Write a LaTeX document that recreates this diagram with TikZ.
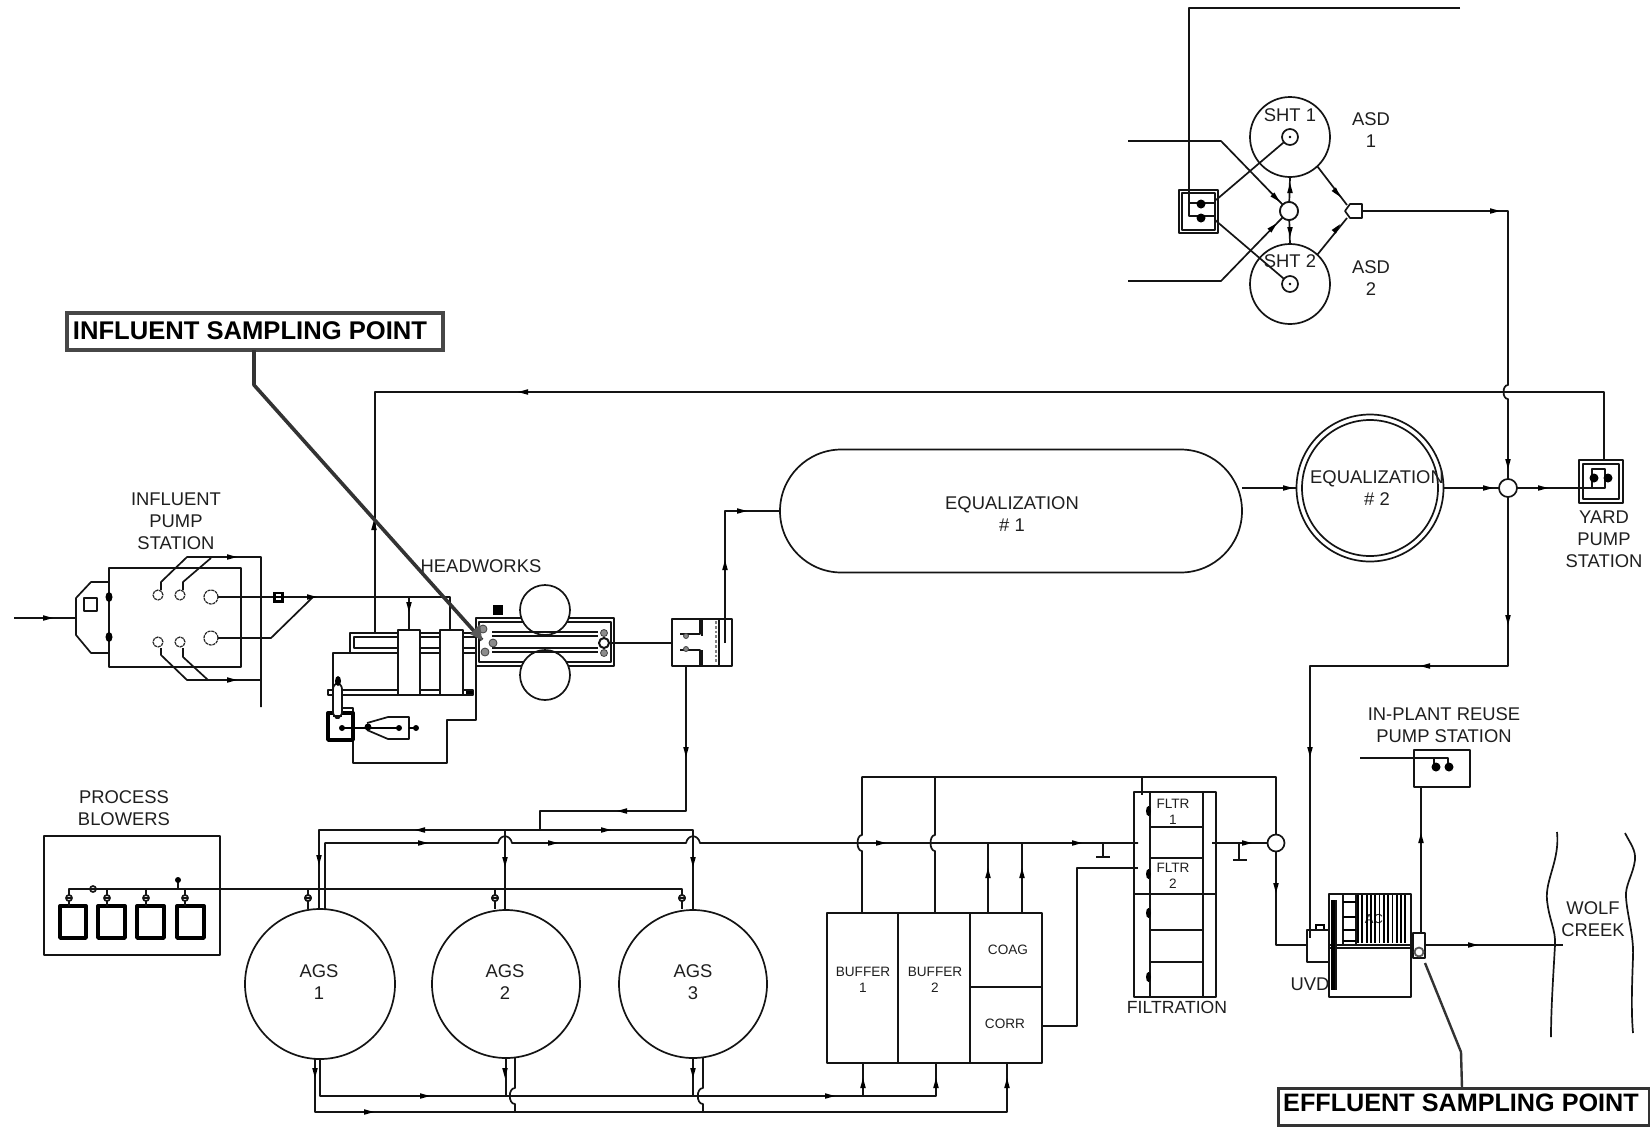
\documentclass[tikz,border=0pt]{standalone}
\usepackage{fontspec}
\setmainfont{Liberation Sans}
\usetikzlibrary{fit,shapes.geometric}
\tikzset{
  ln/.style={line width=.85pt,line join=round,black!92},
  hv/.style={line width=1.7pt,line join=round,black},
  t/.style={inner sep=0,align=center,font=\fontsize{9.2}{10.9}\selectfont,text=black!88},
  ts/.style={inner sep=0,align=center,font=\fontsize{6.8}{8}\selectfont,text=black!88},
  tb/.style={inner sep=0,align=center,font=\bfseries\fontsize{12.8}{13}\selectfont,text=black},
  tank/.style={circle,draw,ln,fill=white,inner sep=0,outer sep=0},
  callout/.style={line width=2.2pt,draw=black!72},
  leader/.style={line width=1.8pt,black!80,line join=round},
}
\newcommand\bx[6][]{\node[draw,ln,inner sep=0,outer sep=0,fit={(#3,#4) (#5,#6)},#1] (#2) {};}
\newcommand\tip[3]{\fill[black,shift={(#1,#2)},rotate=#3] (5,0) -- (-5,2.8) -- (-5,-2.8) -- cycle;}
\newcommand\vlv[2]{\draw[ln,fill=white] (#1,#2) circle[radius=3]; \draw[ln] (#1-3,#2) -- (#1+3,#2);}
\newcommand\dotb[3]{\fill[black] (#1,#2) circle[radius=#3];}
\newcommand\graydot[3]{\fill[black!45] (#1,#2) circle[radius=#3]; \draw[line width=.4pt,black!75] (#1,#2) circle[radius=#3];}
\begin{document}
\begin{tikzpicture}[x=.5pt,y=-.5pt]
\useasboundingbox[fill=white] (0,0) rectangle (1650,1126);

% ---------- ASD / sludge holding
\node[tank,minimum size=40pt] (sht1) at (1290,137) {};
\node[tank,minimum size=40pt] (sht2) at (1290,284) {};
\node[tank,minimum size=8pt] (sc1) at (1290,137) {};
\node[tank,minimum size=8pt] (sc2) at (1290,284) {};
\fill (1290,137) circle[radius=1.3]; \fill (1290,284) circle[radius=1.3];
\node[tank,minimum size=9pt] (mid) at (1289,211) {};
\bx{spo}{1179}{190}{1218}{233}
\bx{spi}{1182}{193}{1215}{230}
\coordinate (topend) at (1460,8);
\coordinate (inA) at (1128,141);
\coordinate (inB) at (1128,281);
\draw[ln] (topend) -- (1189,8) -- (1189,216) -- (1214,216);
\draw[ln] (1189,203) -- (1214,203);
\dotb{1201}{204}{4.5} \dotb{1201}{218}{4.5}
\draw[ln] (1216,200) -- (sc1);
\draw[ln] (1215,220) -- (sc2);
\draw[ln] (inA) -- (1221,141) -- (mid.north west);
\draw[ln] (inB) -- (1221,281) -- (mid.south west);
\draw[ln] (mid) -- (sht1.south);
\draw[ln] (mid) -- (sht2.north);
\node[tank,minimum size=9pt] at (1289,211) {};
\tip{1276}{198}{-45} \tip{1273}{227}{45}
\tip{1290}{188}{90} \tip{1290}{232}{-90}
\draw[ln,fill=white] (1345,211) -- (1350,204) -- (1362,204) -- (1362,218) -- (1350,218) -- cycle;
\coordinate (pent) at (1362,211);
\draw[ln] (sht1.-47) -- (1347,205);
\draw[ln] (sht2.47) -- (1347,218);
\tip{1337}{193}{-50} \tip{1337}{228}{50}
\node[t] (lsht1) at (1290,115) {SHT 1};
\node[t] (lsht2) at (1290,261) {SHT 2};
\node[t] (lasd1) at (1371,130) {ASD\\1};
\node[t] (lasd2) at (1371,278) {ASD\\2};

% ---------- equalization and yard pump
\node[draw,ln,fill=white,rounded corners=30.7pt,minimum width=231pt,minimum height=61.5pt,inner sep=0,outer sep=0] (eq1) at (1011,511) {};
\node[tank,minimum size=73.5pt] (eq2) at (1370,488) {};
\node[tank,minimum size=68pt] (eq2i) at (1370,488) {};
\node[t] (leq1) at (1012,514) {EQUALIZATION\\\# 1};
\node[t] (leq2) at (1377,488) {EQUALIZATION\\\# 2};
\node[tank,minimum size=9pt] (jct) at (1508,488) {};
\draw[ln] (eq1.east |- eq2.west) -- (eq2.west);
\tip{1288}{488}{0}
\draw[ln] (eq2.east) -- (jct.west);
\tip{1488}{488}{0}
\draw[ln] (pent) -- (1508,211) -- (1508,385) .. controls (1502,385) and (1502,399) .. (1508,399) -- (jct.north);
\tip{1495}{211}{0} \tip{1508}{464}{-90}
\bx{ypo}{1579}{460}{1623}{503}
\bx{ypi}{1583}{464}{1619}{499}
\draw[ln] (jct.east) -- (1605,488) -- (1605,469) -- (1592,469) -- (1592,487);
\tip{1543}{488}{0}
\dotb{1594}{478}{4.5} \dotb{1608}{478}{4.5}
\draw[ln] (ypo.north -| 1604,0) -- (1604,392) -- (375,392) -- (375,633);
\tip{523}{392}{180} \tip{374}{525}{90}
\node[t] (lyard) at (1604,539) {YARD\\PUMP\\STATION};
\draw[ln] (jct.south) -- (1508,666) -- (1310,666) -- (1310,938);
\tip{1508}{620}{-90} \tip{1425}{666}{180} \tip{1310}{752}{-90}
\draw[ln] (eq1.west |- 0,511) -- (725,511) -- (725,643);
\tip{742}{511}{0} \tip{725}{565}{90}

% ---------- influent pump station
\coordinate (infl) at (14,618);
\bx{ips}{109}{568}{241}{667}
\draw[ln] (109,582) -- (91,582) -- (76,598) -- (76,635) -- (91,653) -- (109,653);
\bx{ipsq}{84}{598}{97}{611}
\draw[ln] (infl) -- (76,618);
\tip{48}{618}{0}
\fill (109,597) ellipse[x radius=3.5,y radius=5];
\fill (109,637) ellipse[x radius=3.5,y radius=5];
\foreach \n/\x/\y/\r in {p1/158/595/5,p2/180/595/5,p3/211/597/7,p4/211/638/7,p5/158/642/5,p6/180/642/5}{
  \node[circle,draw,line width=.6pt,black!85,dash pattern=on 1.5pt off .4pt,inner sep=0,minimum size=\r pt,outer sep=0] (\n) at (\x,\y) {};
}
\draw[ln] (161,590) -- (161,582) -- (187,557) -- (261,557) -- (261,707);
\draw[ln] (183,590) -- (183,582) -- (211,558);
\draw[ln] (161,648) -- (161,655) -- (187,680) -- (261,680);
\draw[ln] (183,648) -- (183,657) -- (208,680);
\tip{232}{557}{0} \tip{232}{680}{0}
\draw[ln] (p3.east) -- (450,597) -- (450,633);
\draw[ln] (p4.east) -- (271,638) -- (313,597);
\tip{312}{597}{0}
\fill (273,591.5) rectangle (284,602.5);
\fill[white] (276,594) rectangle (281,596); \fill[white] (276,598) rectangle (281,600);
\node[t] (lips) at (176,521) {INFLUENT\\PUMP\\STATION};

% ---------- headworks basins
\draw[ln] (350,653) -- (350,633) -- (477,633);
\draw[ln] (477,637) -- (354,637) -- (354,648) -- (477,648);
\draw[ln] (333,690) -- (333,653) -- (476,653) -- (476,720) -- (447,720) -- (447,763) -- (353,763) -- (353,708) -- (337,708);
\bx{lowbar}{328}{690}{473}{695}
\draw[line width=1.6pt] (466,692.5) -- (473,692.5);
\draw[ln] (409,597) -- (409,631);
\tip{409}{607}{-90}
\bx[fill=white]{col1}{398}{630}{420}{695}
\bx[fill=white]{col2}{440}{630}{463}{695}
% grit / sludge equipment
\bx[hv]{dw}{328}{713}{353}{740}
\draw[ln,fill=white,rounded corners=3pt] (333,718) -- (333,683) -- (342,683) -- (342,718) -- cycle;
\fill (338,681) ellipse[x radius=3,y radius=5];
\draw[ln] (333,716) -- (342,716);
\draw[ln] (367,723) -- (388,717) -- (409,717) -- (409,739) -- (388,739) -- (367,730);
\draw[line width=1pt] (342,728) -- (400,728);
\fill (342,728) circle[radius=3]; \dotb{368}{727}{3.5} \dotb{399}{728}{3}
\draw[line width=1.4pt] (409,728) -- (417,728); \dotb{416}{728}{3}
% headworks
\draw[ln] (476,618) rectangle (614,666);
\draw[ln] (479,622) rectangle (611,662);
\node[tank,minimum size=25pt] (hw1) at (545,610) {};
\node[tank,minimum size=25pt] (hw2) at (545,675) {};
\draw[ln] (492,632) -- (598,632); \draw[ln] (492,636) -- (598,636);
\draw[ln] (492,648) -- (598,648); \draw[ln] (492,652) -- (598,652);
\graydot{493}{643}{4} \graydot{485}{652}{4} \graydot{483}{629}{4}
\graydot{604}{633}{3.5} \graydot{604}{653}{3.5}
\node[tank,line width=1pt,minimum size=5pt] (hwout) at (604,643) {};
\fill (493,605) rectangle (503,615);
\node[t] (lhw) at (481,566) {HEADWORKS};

% ---------- flow splitter
\bx{spl}{672}{619}{732}{666}
\draw[ln] (hwout.east) -- (spl.west |- hwout.east);
\draw[ln] (719,619) -- (719,666);
\draw[ln] (725,643) -- (725,619);
\draw[ln] (700,619) -- (700,634) -- (680,634);
\draw[ln] (702,619) -- (702,636);
\draw[ln] (700,666) -- (700,650) -- (680,650);
\draw[ln] (702,666) -- (702,650);
\draw[black!50,line width=1.4pt,densely dotted] (716,621) -- (716,664);
\graydot{686}{636}{2.5} \graydot{686}{649}{2.5}

% ---------- blowers
\bx{blw}{44}{836}{220}{955}
\foreach \n/\a/\b in {b1/60/86,b2/98/125,b3/137/164,b4/177/204}{
  \bx[hv]{\n}{\a}{906}{\b}{938}
}
\coordinate (hdrend) at (682,889);
\draw[ln] (69,906) -- (69,889) -- (hdrend) -- (682,909);
\draw[ln] (107,889) -- (107,906);
\draw[ln] (146,889) -- (146,906);
\draw[ln] (185,889) -- (185,906);
\draw[ln] (178,889) -- (178,880);
\fill (178,880) circle[radius=3];
\foreach \x in {69,107,146,185,308,495,682}{\vlv{\x}{898}}
\vlv{93}{889}
\node[t] (lblw) at (124,808) {PROCESS\\BLOWERS};

% ---------- AGS
\node[tank,minimum size=75pt] (ags1) at (320,984) {};
\node[tank,minimum size=74pt] (ags2) at (506,984) {};
\node[tank,minimum size=74pt] (ags3) at (693,984) {};
\draw[ln] (308,889) -- (308,909);
\draw[ln] (495,889) -- (495,909);
\foreach \x in {308,495,682}{\vlv{\x}{898}}
\node[t] (lags1) at (319,982) {AGS\\1};
\node[t] (lags2) at (505,982) {AGS\\2};
\node[t] (lags3) at (693,982) {AGS\\3};
\draw[ln] (319,909) -- (319,830) -- (693,830) -- (693,909);
\draw[ln] (505,830) -- (505,909);
\draw[ln] (spl.south -| 686,0) -- (686,811) -- (540,811) -- (540,830);
\tip{686}{752}{-90} \tip{622}{811}{180} \tip{420}{830}{180} \tip{606}{830}{0}
\tip{319}{860}{-90} \tip{505}{862}{-90} \tip{693}{862}{-90}
\bx[fill=white]{buf1}{827}{913}{898}{1063}
\bx[fill=white]{buf2}{898}{913}{970}{1063}
\bx[fill=white]{coag}{970}{913}{1042}{987}
\bx[fill=white]{corr}{970}{987}{1042}{1063}
\node[ts] (lb1) at (863,980) {BUFFER\\1};
\node[ts] (lb2) at (935,980) {BUFFER\\2};
\node[ts] (lcoag) at (1008,950) {COAG};
\node[ts] (lcorr) at (1005,1024) {CORR};

% filters
\bx{fout}{1134}{792}{1216}{997}
\draw[ln] (1150,792) -- (1150,997);
\draw[ln] (1203,792) -- (1203,997);
\foreach \y in {827,858,930,962}{\draw[ln] (1150,\y) -- (1203,\y);}
\draw[ln] (1134,894) -- (1216,894);
\foreach \y in {811,874,913,977}{\fill (1148.5,\y) ellipse[x radius=2.5,y radius=5];}
\node[ts] (lf1) at (1173,812) {FLTR\\1};
\node[ts] (lf2) at (1173,876) {FLTR\\2};
\node[t,font=\fontsize{8.8}{10}\selectfont] (lfilt) at (1177,1007) {FILTRATION};
\node[tank,minimum size=8.5pt] (jc2) at (1276,843) {};

% main process line with crossovers
\draw[ln] (325,909) -- (325,843) -- (498,843) .. controls (500,834) and (510,834) .. (512,843) -- (686,843) .. controls (688,834) and (698,834) .. (700,843) -- (1138,843);
\draw[ln] (1212,843) -- (jc2.west);
\tip{423}{843}{0} \tip{553}{843}{0} \tip{881}{843}{0} \tip{1077}{843}{0} \tip{1247}{843}{0}
\draw[ln] (jc2.north) -- (1276,777) -- (862,777) -- (862,835) .. controls (856,835) and (856,851) .. (862,851) -- (buf1.north -| 862,0);
\draw[ln] (935,777) -- (935,835) .. controls (929,835) and (929,851) .. (935,851) -- (buf2.north -| 935,0);
\draw[ln] (1142,777) -- (1142,795);
\draw[ln] (988,843) -- (coag.north -| 988,0);
\draw[ln] (1022,843) -- (coag.north -| 1022,0);
\tip{988}{873}{90} \tip{1022}{873}{90}
\draw[ln] (corr.east |- 0,1026) -- (1077,1026) -- (1077,868) -- (1138,868);
\draw[ln] (1103,843) -- (1103,857); \draw[ln] (1096,857) -- (1110,857);
\draw[ln] (1239,843) -- (1239,860); \draw[ln] (1233,860) -- (1247,860);

% bottom return lines
\draw[ln] (ags1.south -| 320,0) -- (320,1096) -- (936,1096) -- (buf2.south -| 936,0);
\draw[ln] (ags1.south -| 315,0) -- (315,1112) -- (1007,1112) -- (corr.south -| 1007,0);
\draw[ln] (863,1096) -- (buf1.south -| 863,0);
\draw[ln] (ags2.south) -- (506,1096);
\draw[ln] (ags3.south) -- (693,1096);
\draw[ln] (515,1058) -- (515,1088) .. controls (508,1088) and (508,1104) .. (515,1104) -- (515,1112);
\draw[ln] (703,1058) -- (703,1088) .. controls (696,1088) and (696,1104) .. (703,1104) -- (703,1112);
\tip{315}{1073}{-90} \tip{505}{1073}{-90} \tip{693}{1073}{-90}
\tip{425}{1096}{0} \tip{830}{1096}{0} \tip{369}{1112}{0}
\tip{863}{1083}{90} \tip{936}{1083}{90} \tip{1007}{1083}{90}

% ---------- UV and effluent
\bx{uvb}{1307}{930}{1329}{962}
\draw[line width=1.3pt] (1316,929) -- (1316,925) -- (1324,925) -- (1324,929);
\draw[ln] (jc2.south) -- (1276,945) -- (uvb.west |- 0,945);
\tip{1276}{888}{-90}
\bx{uvm}{1329}{894}{1411}{997}
\draw[ln] (1329,945) -- (1411,945); \draw[ln] (1329,948) -- (1411,948);
\draw[ln] (1343,894) -- (1343,945);
\draw[ln] (1356,894) -- (1356,945);
\foreach \y in {902,917,930,941}{\draw[line width=1.2pt] (1343,\y) -- (1356,\y);}
\node[ts,font=\fontsize{6.5}{7}\selectfont] (lac) at (1374,919) {AC};
\foreach \x in {1358,1362.3,...,1408}{\draw[line width=.9pt] (\x,895) -- (\x,943);}
\draw[line width=1.6pt] (1333,900) -- (1333,990);
\draw[ln] (1336,900) -- (1336,990);
\node[t] (luvd) at (1310,984) {UVD};
\bx[fill=white]{eff}{1413}{933}{1425}{958}
\draw[line width=.9pt,black!65] (1419,952) circle[radius=4.5];
\coordinate (cr) at (1563,945);
\draw[ln] (eff.east |- 0,945) -- (cr);
\tip{1473}{945}{0}
\bx{reuse}{1414}{750}{1470}{787}
\draw[ln] (eff.north -| 1421,0) -- (reuse.south -| 1421,0);
\tip{1421}{838}{90}
\coordinate (reuseL) at (1360,758);
\draw[ln] (reuseL) -- (1448,758) -- (1448,764);
\draw[ln] (1434,758) -- (1434,764);
\dotb{1436}{767}{4.5} \dotb{1449}{767}{4.5}
\node[t] (lreuse) at (1444,725) {IN-PLANT REUSE\\PUMP STATION};

% creek
\draw[ln] (1557,832) .. controls (1560,860) and (1545,880) .. (1547,900) .. controls (1549,920) and (1556,930) .. (1555,945) .. controls (1553,980) and (1551,1010) .. (1551,1037);
\draw[ln] (1625,833) .. controls (1630,843) and (1636,850) .. (1635,860) .. controls (1633,875) and (1625,885) .. (1626,897) .. controls (1627,915) and (1634,935) .. (1633,957) .. controls (1632,985) and (1631,1010) .. (1633,1033);
\node[t] (lcreek) at (1593,919) {WOLF\\CREEK};

% ---------- callouts
\node[draw,callout,fill=white,fit={(67,313) (443,350)},inner sep=0,outer sep=0] (infbox) {};
\node[tb] (linf) at (250,331) {INFLUENT SAMPLING POINT};
\node[draw,callout,draw=black!80,line width=1.5pt,fit={(1278,1088) (1649,1125)},inner sep=0,outer sep=0] (effbox) {};
\node[tb,font=\bfseries\fontsize{12.6}{13}\selectfont] (leff) at (1461,1103) {EFFLUENT SAMPLING POINT};
\coordinate (sampIn) at (482,640);
\coordinate (sampEff) at (1425,963);
\draw[leader] (infbox.south -| 254,0) -- (254,385) -- (sampIn);
\fill[black!65] (sampIn) -- (470,634) -- (480,624) -- cycle;
\draw[leader,line width=1.2pt] (effbox.north -| 1462,0) -- (1461,1052) -- (sampEff);
\end{tikzpicture}
\end{document}
